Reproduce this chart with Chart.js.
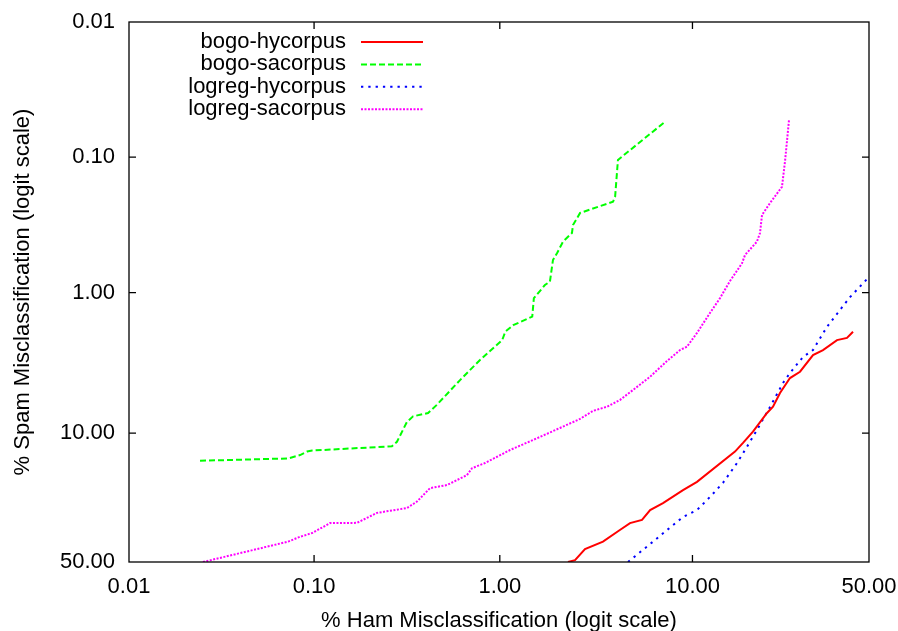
<!DOCTYPE html>
<html>
<head>
<meta charset="utf-8">
<script src="https://cdn.jsdelivr.net/npm/chart.js@4.4.1/dist/chart.umd.min.js"></script>
<style>
  html, body { margin: 0; padding: 0; background: #fff; }
</style>
</head>
<body>
<canvas id="roc" width="898" height="631"></canvas>
<script>
// Tick values (percent) and their labels
const tickValues = [0.01, 0.10, 1.00, 10.00, 50.00];
const tickLabels = ['0.01', '0.10', '1.00', '10.00', '50.00'];

// Series: % ham misclassification / % spam misclassification
const bogoHyHam = [2.305, 2.511, 2.834, 3.520, 4.307, 4.858, 5.597, 6.156, 7.15, 8.99, 10.52, 15.87, 17.25, 19.09, 21.94, 23.24, 24.83, 27.22, 29.76, 33.25, 36.07, 40.17, 43.19, 45.04];
const bogoHySpam = [50, 49.2, 44.5, 41.4, 36.7, 34.0, 32.8, 29.2, 26.8, 22.7, 20.3, 13.2, 11.6, 9.77, 7.30, 6.61, 5.30, 4.16, 3.75, 2.85, 2.62, 2.22, 2.14, 1.93];

const bogoSaHam = [0.0242, 0.0724, 0.084, 0.0917, 0.0976, 0.263, 0.280, 0.317, 0.342, 0.412, 0.460, 0.612, 0.783, 1.03, 1.07, 1.18, 1.49, 1.52, 1.74, 1.85, 1.92, 2.02, 2.17, 2.42, 2.45, 2.67, 3.97, 4.07, 4.21, 7.32];
const bogoSaSpam = [15.1, 14.6, 13.9, 13.2, 13.0, 12.2, 11.4, 8.4, 7.7, 7.3, 6.4, 4.3, 3.09, 2.22, 1.93, 1.73, 1.50, 1.10, 0.88, 0.83, 0.576, 0.512, 0.422, 0.364, 0.318, 0.259, 0.214, 0.197, 0.105, 0.0548];

const logregHyHam = [4.745, 6.156, 7.487, 8.99, 10.52, 12.14, 13.97, 16.21, 17.97, 19.87, 22.58, 25.53, 27.22, 30.54, 33.25, 37.22, 41.07, 44.12, 50];
const logregHySpam = [50, 42.4, 36.7, 31.7, 29.2, 24.8, 20.6, 15.6, 12.3, 9.52, 6.64, 4.51, 3.83, 2.94, 2.62, 1.78, 1.34, 1.08, 0.768];

const logregSaHam = [0.0251, 0.0724, 0.084, 0.0976, 0.122, 0.1705, 0.2185, 0.317, 0.359, 0.422, 0.521, 0.667, 0.710, 0.833, 1.134, 1.504, 2.091, 2.667, 3.117, 3.695, 4.307, 5.035, 6.156, 7.487, 8.689, 9.40, 10.52, 12.14, 13.53, 15.06, 17.07, 17.61, 19.87, 20.48, 20.89, 22.58, 25.29, 26.01, 26.98];
const logregSaSpam = [50, 41.4, 39.4, 37.9, 34.0, 33.9, 30.2, 28.5, 26.3, 22.1, 21.2, 18.5, 16.8, 15.6, 12.9, 11.1, 9.23, 8.02, 7.07, 6.61, 5.94, 5.05, 4.07, 3.14, 2.62, 2.48, 1.97, 1.41, 1.10, 0.822, 0.609, 0.529, 0.422, 0.364, 0.268, 0.219, 0.166, 0.108, 0.0532];

const FONT = '"Liberation Sans", Arial, Helvetica, sans-serif';

// logit of a percentage
const logit = pct => {
    const p = pct / 100;
    return Math.log(p / (1 - p));
};

const toPoints = (xs, ys) => xs.map((x, i) => ({ x: logit(x), y: logit(ys[i]) }));

const lo = logit(tickValues[0]);
const hi = logit(tickValues[tickValues.length - 1]);

const setTicks = scale => {
    scale.ticks = tickValues.map(v => ({ value: logit(v) }));
};

const tickLabel = value => {
    const i = tickValues.findIndex(t => Math.abs(logit(t) - value) < 1e-6);
    return i >= 0 ? tickLabels[i] : '';
};

// Frame, inward tick marks (all four sides) and the gnuplot-like key
const framePlugin = {
    id: 'frame',
    afterDraw(chart) {
        const { ctx, chartArea: a, scales } = chart;
        ctx.save();
        ctx.strokeStyle = '#000';
        ctx.lineWidth = 1.3;
        ctx.setLineDash([]);
        ctx.strokeRect(a.left, a.top, a.right - a.left, a.bottom - a.top);

        ctx.beginPath();
        tickValues.slice(1, -1).forEach(v => {
            const px = scales.x.getPixelForValue(logit(v));
            ctx.moveTo(px, a.bottom); ctx.lineTo(px, a.bottom - 7);
            ctx.moveTo(px, a.top); ctx.lineTo(px, a.top + 7);
            const py = scales.y.getPixelForValue(logit(v));
            ctx.moveTo(a.left, py); ctx.lineTo(a.left + 7, py);
            ctx.moveTo(a.right, py); ctx.lineTo(a.right - 7, py);
        });
        ctx.stroke();

        // key
        ctx.font = '22px ' + FONT;
        ctx.fillStyle = '#000';
        ctx.textAlign = 'right';
        ctx.textBaseline = 'middle';
        chart.data.datasets.forEach((ds, i) => {
            const y = a.top + 20 + i * 22.4;
            ctx.fillText(ds.label, a.left + 217, y);
            ctx.strokeStyle = ds.borderColor;
            ctx.lineWidth = ds.borderWidth;
            ctx.setLineDash(ds.borderDash || []);
            ctx.beginPath();
            ctx.moveTo(a.left + 232, y);
            ctx.lineTo(a.left + 294, y);
            ctx.stroke();
        });
        ctx.restore();
    }
};

const lineSet = (label, xs, ys, color, dash) => ({
    label: label,
    data: toPoints(xs, ys),
    showLine: true,
    borderColor: color,
    backgroundColor: color,
    borderWidth: 2,
    borderDash: dash,
    pointRadius: 0,
    tension: 0,
    fill: false
});

new Chart(document.getElementById('roc').getContext('2d'), {
    type: 'scatter',
    data: {
        datasets: [
            lineSet('bogo-hycorpus', bogoHyHam, bogoHySpam, '#ff0000', []),
            lineSet('bogo-sacorpus', bogoSaHam, bogoSaSpam, '#00ff00', [6, 3]),
            lineSet('logreg-hycorpus', logregHyHam, logregHySpam, '#0000ff', [2.3, 5]),
            lineSet('logreg-sacorpus', logregSaHam, logregSaSpam, '#ff00ff', [2, 1.5])
        ]
    },
    options: {
        responsive: false,
        animation: false,
        devicePixelRatio: 1,
        layout: { padding: { top: 22, right: 29, left: 0, bottom: 0 } },
        plugins: {
            legend: { display: false },
            tooltip: { enabled: false }
        },
        scales: {
            x: {
                type: 'linear',
                min: lo,
                max: hi,
                afterBuildTicks: setTicks,
                afterFit: s => {
                    s.height = 69;
                    s.paddingLeft = 0;
                    s.paddingRight = 0;
                },
                grid: { display: false, drawTicks: false },
                border: { display: false },
                ticks: {
                    autoSkip: false,
                    maxRotation: 0,
                    padding: 12,
                    color: '#000',
                    font: { family: FONT, size: 22 },
                    callback: tickLabel
                },
                title: {
                    display: true,
                    text: '% Ham Misclassification (logit scale)',
                    color: '#000',
                    font: { family: FONT, size: 22, lineHeight: 1 },
                    padding: { top: 0, bottom: -1 }
                }
            },
            y: {
                type: 'linear',
                reverse: true,
                min: lo,
                max: hi,
                afterBuildTicks: setTicks,
                afterFit: s => {
                    s.width = 129;
                    s.paddingTop = 0;
                    s.paddingBottom = 0;
                },
                grid: { display: false, drawTicks: false },
                border: { display: false },
                ticks: {
                    autoSkip: false,
                    padding: 14,
                    color: '#000',
                    font: { family: FONT, size: 22 },
                    callback: tickLabel
                },
                title: {
                    display: true,
                    text: '% Spam Misclassification (logit scale)',
                    color: '#000',
                    font: { family: FONT, size: 22, lineHeight: 1 },
                    padding: { top: 12, bottom: 0 }
                }
            }
        }
    },
    plugins: [framePlugin]
});
</script>
</body>
</html>
